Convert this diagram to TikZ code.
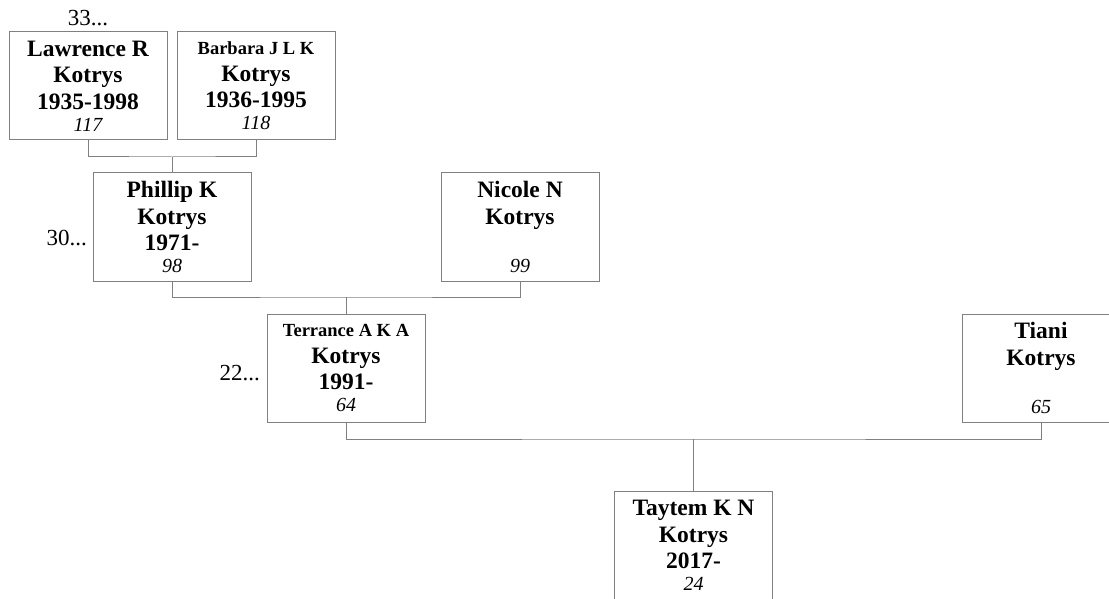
\documentclass[tikz,border=0pt]{standalone}
\usepackage{fontspec}
\setmainfont{Liberation Serif}
\definecolor{boxgray}{RGB}{128,128,128}
\newcommand\recno[1]{{\mdseries\itshape\fontsize{20}{22}\selectfont #1}}
\newcommand\longname[1]{{\fontsize{18.5}{26.5}\selectfont #1}}
\begin{document}
\begin{tikzpicture}[x=1pt,y=-1pt,
    person/.style={draw=boxgray,line width=1pt,minimum width=158pt,minimum height=108pt,
      inner sep=0pt,text width=156pt,align=flush center,font=\fontsize{23.5}{26.5}\selectfont\bfseries},
    link/.style={draw=boxgray,line width=1pt},
    gen/.style={font=\fontsize{23}{26}\selectfont,inner sep=0pt}]
  \useasboundingbox (0,0) rectangle (1109,599);
  % grandparents
  \node[person] (lr) at (88,86) {Lawrence R\\ Kotrys\\ 1935-1998\\[-4.5pt] \recno{117}};
  \node[person] (bj) at (256,86) {\longname{Barbara J L K}\\ Kotrys\\ 1936-1995\\[-4.5pt] \recno{118}};
  \node[gen,anchor=base] (g33) at (88,26) {33...};
  % parents
  \node[person] (pk) at (172,227) {Phillip K\\ Kotrys\\ 1971-\\[-4.5pt] \recno{98}};
  \node[person] (nn) at (520,227) {Nicole N\\ Kotrys\\ \mbox{}\\[-4.5pt] \recno{99}};
  \node[gen,anchor=base east] (g30) at (87,245) {30...};
  % couple
  \node[person] (tk) at (346,368) {\longname{Terrance A K A}\\ Kotrys\\ 1991-\\[-4.5pt] \recno{64}};
  \node[person] (ti) at (1041,368) {Tiani\\ Kotrys\\ \mbox{}\\[-4.5pt] \recno{65}};
  \node[gen,anchor=base east] (g22) at (260,380) {22...};
  % child
  \node[person] (tn) at (693.5,545.5) {Taytem K N\\ Kotrys\\ 2017-\\[-4.5pt] \recno{24}};

  \coordinate (bar1) at (172,157);
  \coordinate (bar2) at (346,297);
  \coordinate (bar3) at (693.5,439);
  \draw[link] (lr.south) |- (bar1) -| (bj.south);
  \draw[link] (bar1) -- (pk.north);
  \draw[link] (pk.south) |- (bar2) -| (nn.south);
  \draw[link] (bar2) -- (tk.north);
  \draw[link] (tk.south) |- (bar3) -| (ti.south);
  \draw[link] (bar3) -- (tn.north);
\end{tikzpicture}
\end{document}
